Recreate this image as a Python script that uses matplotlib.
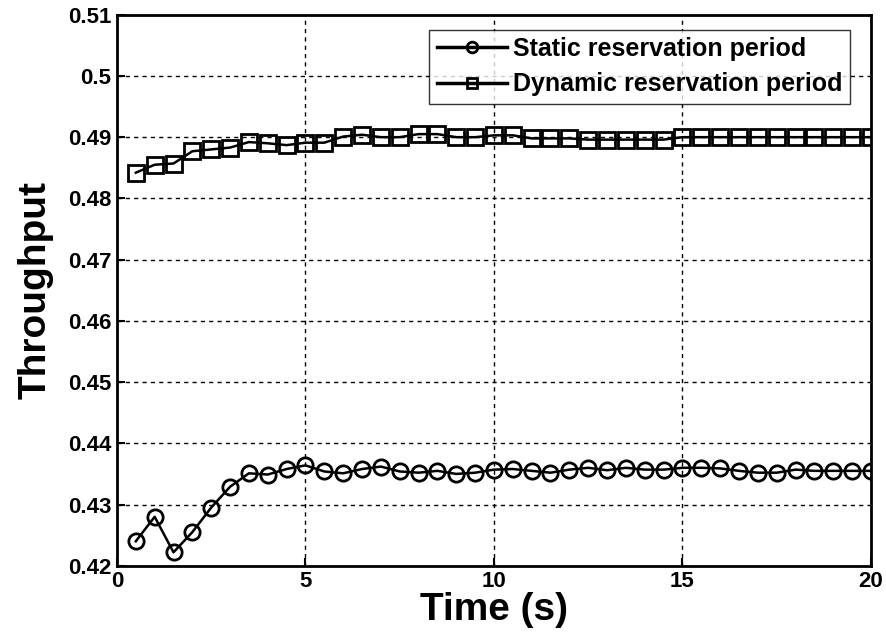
import numpy as np
import matplotlib.pyplot as plt

# time axis (s)
t = np.arange(0.5, 20.01, 0.5)

# throughput, static reservation period
static = [0.4240, 0.4280, 0.4222, 0.4255, 0.4295, 0.4329, 0.4351, 0.4349,
          0.4358, 0.4364, 0.4354, 0.4351, 0.4358, 0.4362, 0.4354, 0.4352,
          0.4355, 0.4350, 0.4352, 0.4357, 0.4358, 0.4355, 0.4352, 0.4357,
          0.4360, 0.4356, 0.4360, 0.4357, 0.4357, 0.4360, 0.4360, 0.4359,
          0.4355, 0.4352, 0.4352, 0.4357, 0.4355, 0.4355, 0.4355, 0.4355]

# throughput, dynamic reservation period
dynamic = [0.4842, 0.4855, 0.4857, 0.4877, 0.4880, 0.4883, 0.4892, 0.4890,
           0.4887, 0.4891, 0.4891, 0.4901, 0.4904, 0.4900, 0.4900, 0.4905,
           0.4905, 0.4900, 0.4900, 0.4903, 0.4903, 0.4898, 0.4898, 0.4898,
           0.4896, 0.4896, 0.4896, 0.4896, 0.4896, 0.4900, 0.4900, 0.4900,
           0.4900, 0.4900, 0.4900, 0.4900, 0.4900, 0.4900, 0.4900, 0.4900]

plt.rcParams["font.family"] = ["Liberation Sans", "DejaVu Sans"]
plt.rcParams["font.weight"] = "bold"

fig = plt.figure(figsize=(8.86, 6.4), dpi=100)
ax = fig.add_axes([0.132, 0.116, 0.851, 0.861])

ax.plot(t, static, "k-", marker="o", markersize=11, markerfacecolor="none",
        markeredgewidth=2, linewidth=1.8, label="Static reservation period")
ax.plot(t, dynamic, "k-", marker="s", markersize=11, markerfacecolor="none",
        markeredgewidth=2, linewidth=1.8, label="Dynamic reservation period")

ax.set_xlim(0, 20)
ax.set_ylim(0.42, 0.51)
ax.set_xticks([0, 5, 10, 15, 20])
ax.set_yticks(np.arange(0.42, 0.5101, 0.01))
ax.set_yticklabels(["0.42", "0.43", "0.44", "0.45", "0.46", "0.47",
                    "0.48", "0.49", "0.5", "0.51"])
ax.tick_params(direction="in", labelsize=16, width=1.5, length=6, pad=4)
for lab in ax.get_xticklabels() + ax.get_yticklabels():
    lab.set_fontweight("bold")
for s in ax.spines.values():
    s.set_linewidth(2)

ax.grid(True, color="k", linestyle=(0, (3, 3)), linewidth=1)

ax.set_xlabel("Time (s)", fontsize=28, fontweight="bold", labelpad=0)
ax.set_ylabel("Throughput", fontsize=28, fontweight="bold", labelpad=10)

leg = ax.legend(loc="upper right", bbox_to_anchor=(0.972, 0.973),
                borderaxespad=0, fontsize=18, frameon=True, fancybox=False,
                edgecolor="k", handlelength=2.8, markerscale=0.7,
                labelspacing=0.45, borderpad=0.3, handletextpad=0.25)
leg.get_frame().set_linewidth(1)
for h in leg.legend_handles:
    h.set_linewidth(2.5)
for txt in leg.get_texts():
    txt.set_fontweight("bold")

plt.savefig("out.png", dpi=100)
